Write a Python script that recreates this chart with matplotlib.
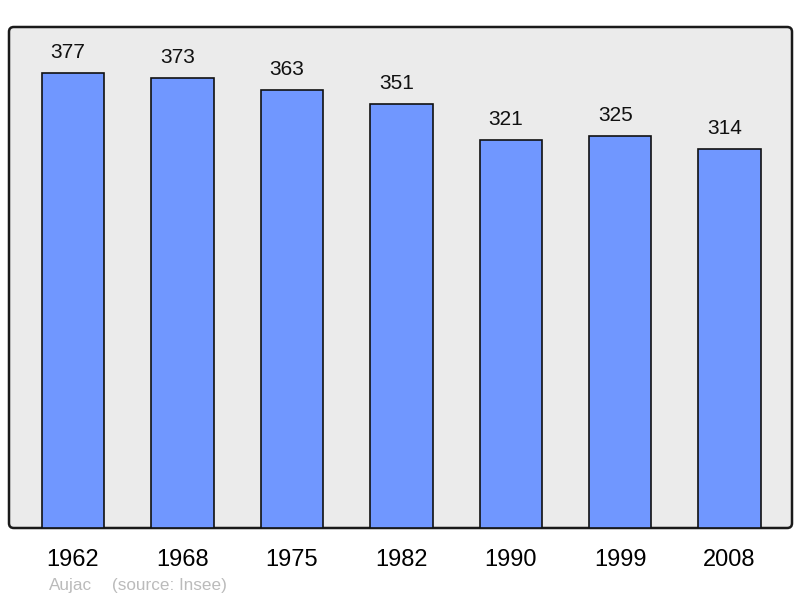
import matplotlib
matplotlib.use("Agg")
import matplotlib.pyplot as plt
from matplotlib.patches import FancyBboxPatch

years = ["1962", "1968", "1975", "1982", "1990", "1999", "2008"]
population = [377, 373, 363, 351, 321, 325, 314]
commune = "Aujac"
source = "(source: Insee)"

plt.rcParams['font.family'] = ['Liberation Sans', 'DejaVu Sans']

W, H = 800, 598
fig = plt.figure(figsize=(W / 100, H / 100), dpi=100)
ax = fig.add_axes([9 / W, (H - 528) / H, 783 / W, 501 / H])
ax.set_facecolor('none')
for s in ax.spines.values():
    s.set_visible(False)

# rounded frame behind the bars
frame = FancyBboxPatch((9 / W, (H - 528) / H), 783 / W, 501 / H,
                       boxstyle="round,pad=0,rounding_size=0.006",
                       mutation_aspect=W / H, transform=fig.transFigure,
                       facecolor='#ebebeb', edgecolor='#1a1a1a', linewidth=1.8,
                       zorder=0, clip_on=False)
ax.add_patch(frame)

x = range(len(years))
bars = ax.bar(x, population, width=0.57, color='#7097ff', edgecolor='#111111',
              linewidth=1.2, zorder=2)
for b, v in zip(bars, population):
    ax.annotate(str(v), (b.get_x() + b.get_width() / 2, v), xytext=(-3.5, 8),
                textcoords='offset points', ha='center', va='bottom',
                fontsize=15, color='#111111')

ax.set_xlim(-0.585, 6.57)
ax.set_ylim(0, 415)
ax.set_yticks([])
ax.set_xticks(list(x))
ax.set_xticklabels(years, fontsize=17)
ax.tick_params(axis='x', length=0, pad=15)

fig.text(49 / W, 1 - 590 / H, commune, fontsize=12.3, color='#bbbbbb', va='baseline')
fig.text(112 / W, 1 - 590 / H, source, fontsize=12.3, color='#bbbbbb', va='baseline')

fig.savefig("out.png", dpi=100)
